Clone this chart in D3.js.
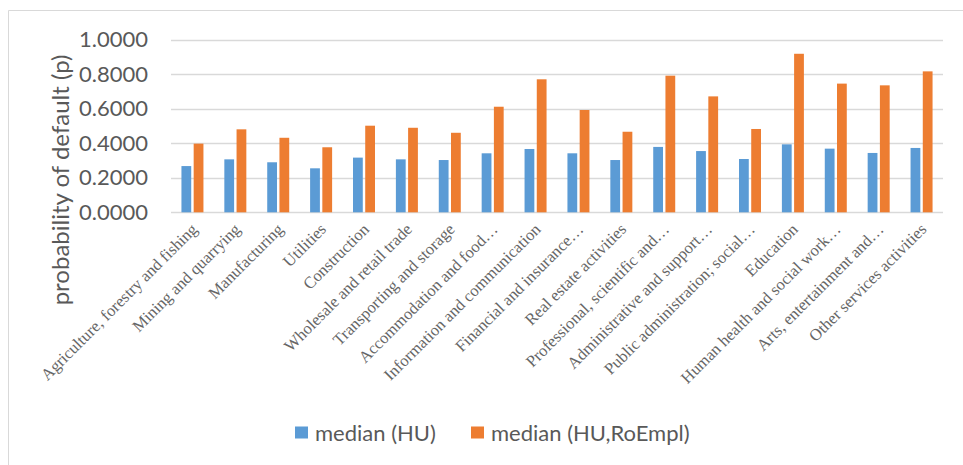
<!DOCTYPE html>
<html>
<head>
<meta charset="utf-8">
<script src="https://cdn.jsdelivr.net/npm/d3@7"></script>
<style>
  html, body { margin: 0; padding: 0; background: #fff; }
  svg { display: block; }
</style>
</head>
<body>
<svg id="chart" width="963" height="465"></svg>
<script>
// Industry sectors along the x axis
const categories = [
  "Agriculture, forestry and fishing",
  "Mining and quarrying",
  "Manufacturing",
  "Utilities",
  "Construction",
  "Wholesale and retail trade",
  "Transporting and storage",
  "Accommodation and food…",
  "Information and communication",
  "Financial and insurance…",
  "Real estate activities",
  "Professional, scientific and…",
  "Administrative and support…",
  "Public administration; social…",
  "Education",
  "Human health and social work…",
  "Arts, entertainment and…",
  "Other services activities"
];

const seriesNames = ["median (HU)", "median (HU,RoEmpl)"];

const medianHU = [0.268, 0.307, 0.290, 0.255, 0.317, 0.307, 0.303, 0.342, 0.367,
                  0.342, 0.303, 0.379, 0.355, 0.309, 0.394, 0.369, 0.344, 0.373];
const medianHURoEmpl = [0.398, 0.481, 0.432, 0.377, 0.502, 0.490, 0.461, 0.612, 0.771,
                        0.593, 0.467, 0.792, 0.672, 0.483, 0.919, 0.746, 0.736, 0.817];

const yTicks = [0, 0.2, 0.4, 0.6, 0.8, 1.0];

const colors = ["#5B9BD5", "#ED7D31"];
const textColor = "#595959";
const gridColor = "#D9D9D9";
const sansFont = "Lato, 'Open Sans', sans-serif";
const serifFont = "'Liberation Serif', 'DejaVu Serif', serif";

const svg = d3.select("#chart");
const W = 963, H = 465;
const plot = { left: 171, right: 943, top: 39.8, bottom: 212.3 };

// chart frame (left and top edges are visible)
svg.append("path")
  .attr("d", `M8.5,${H} L8.5,10.5 L${W},10.5`)
  .attr("fill", "none")
  .attr("stroke", gridColor)
  .attr("stroke-width", 1);

const x = d3.scaleBand()
  .domain(categories)
  .range([plot.left, plot.right])
  .paddingInner(0.487)
  .paddingOuter(0.2435);

const xInner = d3.scaleBand()
  .domain(seriesNames)
  .range([0, x.bandwidth()])
  .paddingInner(0.2);

const y = d3.scaleLinear()
  .domain([0, 1])
  .range([plot.bottom, plot.top]);

// horizontal gridlines
svg.append("g")
  .selectAll("line")
  .data(yTicks)
  .join("line")
  .attr("x1", plot.left)
  .attr("x2", plot.right)
  .attr("y1", d => Math.round(y(d)) + 0.5)
  .attr("y2", d => Math.round(y(d)) + 0.5)
  .attr("stroke", gridColor)
  .attr("stroke-width", 1.3);

// y axis labels
const yAxis = d3.axisLeft(y)
  .tickValues(yTicks)
  .tickFormat(d3.format(".4f"))
  .tickSize(0)
  .tickPadding(0);

const yg = svg.append("g")
  .attr("transform", `translate(148,0)`)
  .call(yAxis);
yg.select(".domain").remove();
yg.selectAll("text")
  .attr("fill", textColor)
  .attr("font-family", sansFont)
  .attr("font-size", "22px");

// y axis title
svg.append("text")
  .attr("transform", `translate(69,180) rotate(-90)`)
  .attr("text-anchor", "middle")
  .attr("fill", textColor)
  .attr("font-family", sansFont)
  .attr("font-size", "24px")
  .text("probability of default (p)");

// bars
const series = [medianHU, medianHURoEmpl];
const groups = svg.append("g")
  .selectAll("g")
  .data(categories)
  .join("g")
  .attr("transform", d => `translate(${x(d)},0)`);

groups.selectAll("rect")
  .data((d, i) => seriesNames.map((s, k) => ({ s, v: series[k][i], k })))
  .join("rect")
  .attr("x", d => xInner(d.s))
  .attr("width", xInner.bandwidth())
  .attr("y", d => y(d.v))
  .attr("height", d => y(0) - y(d.v))
  .attr("fill", d => colors[d.k]);

// category labels, rotated
const xAxis = d3.axisBottom(x).tickSize(0).tickPadding(0);
const xg = svg.append("g")
  .attr("transform", `translate(0,${plot.bottom})`)
  .call(xAxis);
xg.select(".domain").remove();
xg.selectAll("text")
  .attr("fill", "#666666")
  .attr("font-family", serifFont)
  .attr("font-size", "16.5px")
  .attr("text-anchor", "end")
  .attr("dy", null)
  .attr("y", null)
  .attr("transform", "translate(6,18) rotate(-45)");

// legend
const legendItems = [
  { name: seriesNames[0], color: colors[0], x: 295 },
  { name: seriesNames[1], color: colors[1], x: 471 }
];
const lg = svg.append("g")
  .selectAll("g")
  .data(legendItems)
  .join("g")
  .attr("transform", d => `translate(${d.x},0)`);
lg.append("rect")
  .attr("x", 0)
  .attr("y", 426.5)
  .attr("width", 13)
  .attr("height", 12)
  .attr("fill", d => d.color);
lg.append("text")
  .attr("x", 20)
  .attr("y", 440.5)
  .attr("fill", textColor)
  .attr("font-family", sansFont)
  .attr("font-size", "22px")
  .text(d => d.name);
</script>
</body>
</html>
